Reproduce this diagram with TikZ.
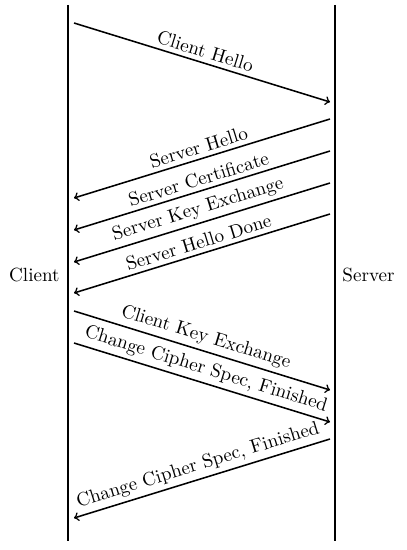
\documentclass[tikz,border=0pt]{standalone}
\begin{document}
\begin{tikzpicture}[x=0.55pt,y=-0.55pt,
  font=\fontsize{10.5}{12.6}\selectfont,
  life/.style={line width=0.9pt},
  msg/.style={line width=0.85pt,->},
  lbl/.style={midway,above,sloped,inner sep=2.2pt}]
\useasboundingbox (0,0) rectangle (407,550);
% lifelines
\coordinate (ctop) at (68,5);
\coordinate (cbot) at (68,541);
\coordinate (stop) at (335,5);
\coordinate (sbot) at (335,541);
\draw[life] (ctop) -- (cbot);
\draw[life] (stop) -- (sbot);
\node[anchor=east] (client) at (66,275) {Client};
\node[anchor=west] (server) at (336,275) {Server};
% message end points
\coordinate (c1) at (74,23);  \coordinate (s1) at (330,102);
\coordinate (s2) at (330,119); \coordinate (c2) at (74,198);
\coordinate (s3) at (330,151); \coordinate (c3) at (74,230);
\coordinate (s4) at (330,183); \coordinate (c4) at (74,262);
\coordinate (s5) at (330,214); \coordinate (c5) at (74,293);
\coordinate (c6) at (74,311); \coordinate (s6) at (330,390);
\coordinate (c7) at (74,343); \coordinate (s7) at (330,422);
\coordinate (s8) at (330,439); \coordinate (c8) at (74,518);
% messages
\draw[msg] (c1) -- node[lbl] (l1) {Client Hello} (s1);
\draw[msg] (s2) -- node[lbl] (l2) {Server Hello} (c2);
\draw[msg] (s3) -- node[lbl] (l3) {Server Certificate} (c3);
\draw[msg] (s4) -- node[lbl] (l4) {Server Key Exchange} (c4);
\draw[msg] (s5) -- node[lbl] (l5) {Server Hello Done} (c5);
\draw[msg] (c6) -- node[lbl] (l6) {Client Key Exchange} (s6);
\draw[msg] (c7) -- node[lbl] (l7) {Change Cipher Spec, Finished} (s7);
\draw[msg] (s8) -- node[lbl] (l8) {Change Cipher Spec, Finished} (c8);
\end{tikzpicture}
\end{document}
